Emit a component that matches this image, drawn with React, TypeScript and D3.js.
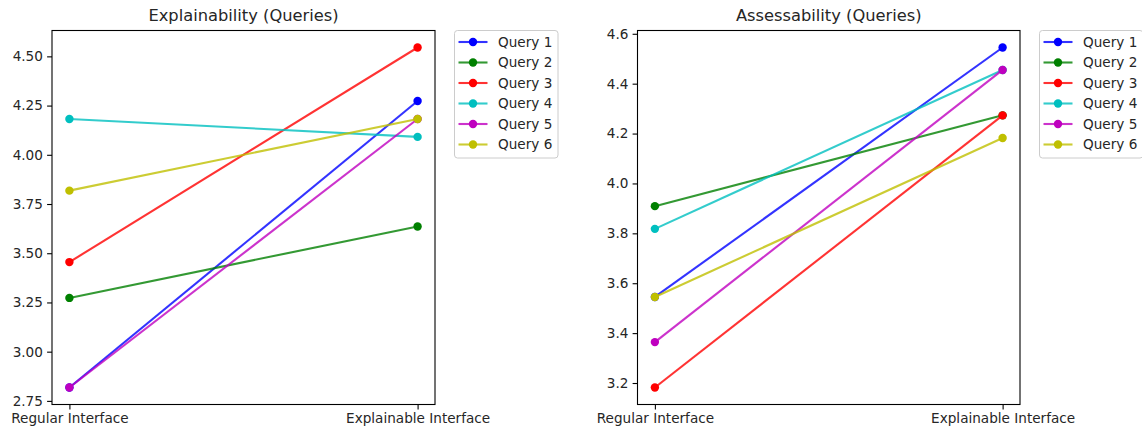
import React, { useEffect, useRef } from 'react';
import * as d3 from 'd3';

const categories = ['Regular Interface', 'Explainable Interface'];
const queries = ['Query 1', 'Query 2', 'Query 3', 'Query 4', 'Query 5', 'Query 6'];
const colors = ['#0000ff', '#008000', '#ff0000', '#00bfbf', '#bf00bf', '#bfbf00'];

// [regular, explainable] per query
const explainability = [
  [2.818, 4.273],
  [3.273, 3.636],
  [3.455, 4.545],
  [4.182, 4.091],
  [2.818, 4.182],
  [3.818, 4.182],
];
const assessability = [
  [3.545, 4.545],
  [3.909, 4.273],
  [3.182, 4.273],
  [3.818, 4.455],
  [3.364, 4.455],
  [3.545, 4.182],
];

const explTicks = [2.75, 3.0, 3.25, 3.5, 3.75, 4.0, 4.25, 4.5];
const assessTicks = [3.2, 3.4, 3.6, 3.8, 4.0, 4.2, 4.4, 4.6];

const FONT = 'DejaVu Sans, sans-serif';
const TEXT = '#262626';

const panels = [
  { title: 'Explainability (Queries)', data: explainability, ticks: explTicks, fmt: '.2f', x0: 52, x1: 435 },
  { title: 'Assessability (Queries)', data: assessability, ticks: assessTicks, fmt: '.1f', x0: 637.5, x1: 1020 },
];

const Y0 = 30.5;
const Y1 = 404.5;

export default function App() {
  const ref = useRef<SVGSVGElement>(null);

  useEffect(() => {
    document.body.style.margin = '0';
    const svg = d3.select(ref.current);
    svg.selectAll('*').remove();

    panels.forEach(p => {
      const all = p.data.flat();
      const lo = d3.min(all)!;
      const hi = d3.max(all)!;
      const m = (hi - lo) * 0.05;

      const x = d3.scalePoint<string>().domain(categories).range([p.x0, p.x1]).padding(0.05);
      const y = d3.scaleLinear().domain([lo - m, hi + m]).range([Y1, Y0]);

      const g = svg.append('g');

      // axes
      const ay = g.append('g')
        .attr('transform', `translate(${p.x0},0)`)
        .call(d3.axisLeft(y).tickValues(p.ticks).tickFormat(d3.format(p.fmt)).tickSize(4.9).tickPadding(4.2));
      const ax = g.append('g')
        .attr('transform', `translate(0,${Y1})`)
        .call(d3.axisBottom(x).tickSize(4.9).tickPadding(3.8));
      [ay, ax].forEach(a => {
        a.select('.domain').remove();
        a.selectAll('line').attr('stroke', '#000').attr('stroke-width', 1.1);
        a.selectAll('text').attr('fill', TEXT).attr('font-family', FONT).attr('font-size', 13.6);
      });

      // series
      const line = d3.line<number>().x((_, i) => x(categories[i])!).y(d => y(d));
      p.data.forEach((vals, qi) => {
        g.append('path')
          .attr('d', line(vals))
          .attr('fill', 'none')
          .attr('stroke', colors[qi])
          .attr('stroke-width', 2.1)
          .attr('stroke-opacity', 0.8);
        g.selectAll(null)
          .data(vals)
          .join('circle')
          .attr('cx', (_, i) => x(categories[i])!)
          .attr('cy', d => y(d))
          .attr('r', 4.2)
          .attr('fill', colors[qi]);
      });

      // frame
      g.append('rect')
        .attr('x', p.x0).attr('y', Y0)
        .attr('width', p.x1 - p.x0).attr('height', Y1 - Y0)
        .attr('fill', 'none').attr('stroke', '#000').attr('stroke-width', 1.1);

      // title
      g.append('text')
        .attr('x', (p.x0 + p.x1) / 2).attr('y', 21)
        .attr('text-anchor', 'middle')
        .attr('font-family', FONT).attr('font-size', 16.3).attr('fill', TEXT)
        .text(p.title);

      // legend
      const lx = p.x1 + 19.5;
      const leg = g.append('g').attr('transform', `translate(${lx},${Y0})`);
      leg.append('rect')
        .attr('x', 0).attr('y', 0).attr('width', 103.5).attr('height', 127.5)
        .attr('rx', 3).attr('fill', '#fff').attr('fill-opacity', 0.8)
        .attr('stroke', '#cccccc').attr('stroke-width', 1);
      queries.forEach((q, i) => {
        const cy = 11.5 + i * 20.5;
        leg.append('line')
          .attr('x1', 4).attr('x2', 33).attr('y1', cy).attr('y2', cy)
          .attr('stroke', colors[i]).attr('stroke-width', 2.1).attr('stroke-opacity', 0.8);
        leg.append('circle').attr('cx', 18.5).attr('cy', cy).attr('r', 4.2).attr('fill', colors[i]);
        leg.append('text')
          .attr('x', 43.5).attr('y', cy + 4.9)
          .attr('font-family', FONT).attr('font-size', 13.6).attr('fill', TEXT)
          .text(q);
      });
    });
  }, []);

  return <svg ref={ref} width={1142} height={428} style={{ display: 'block' }} />;
}
